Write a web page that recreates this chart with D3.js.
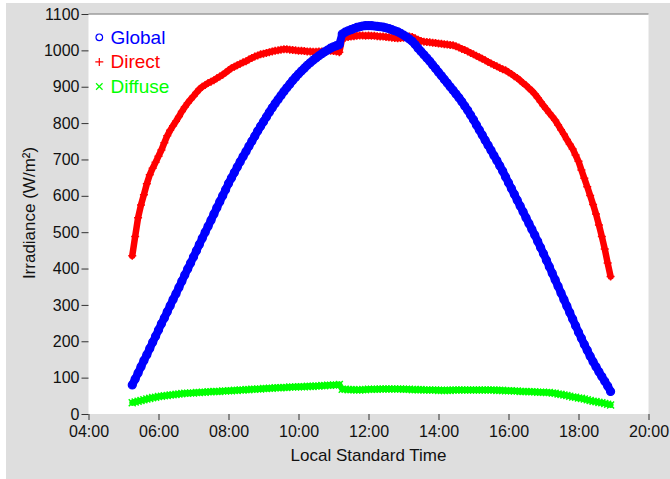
<!DOCTYPE html>
<html>
<head>
<meta charset="utf-8">
<script src="https://cdn.jsdelivr.net/npm/d3@7"></script>
<style>
  html, body { margin: 0; padding: 0; background: #fff; }
  svg { display: block; }
</style>
</head>
<body>
<svg id="chart" width="670" height="479"></svg>
<script>
// one reading every 5 minutes, 05:15 .. 18:55 (one row per hour)
const firstReading = "05:15";
const stepMinutes = 5;

const globalIrr = [
  80, 96, 113, 130, 147, 163, 180, 197, 214,
  231, 248, 264, 281, 298, 315, 331, 348, 365, 382, 399, 415,
  432, 449, 466, 483, 500, 516, 533, 550, 567, 584, 600, 617,
  634, 649, 664, 679, 694, 708, 722, 736, 750, 764, 778, 791,
  804, 817, 830, 842, 854, 865, 876, 887, 897, 907, 917, 926,
  935, 943, 951, 959, 966, 973, 979, 985, 991, 996, 1001, 1006,
  1010, 1013, 1016, 1045, 1050, 1054, 1057, 1060, 1063, 1065, 1067, 1068,
  1068, 1068, 1067, 1066, 1065, 1064, 1062, 1060, 1057, 1054, 1051, 1047,
  1042, 1037, 1031, 1025, 1016, 1006, 997, 988, 979, 970, 960, 950,
  940, 930, 920, 910, 900, 890, 880, 870, 859, 847, 835, 822,
  809, 795, 781, 767, 753, 739, 725, 711, 697, 683, 668, 652,
  636, 620, 604, 588, 572, 556, 540, 524, 508, 492, 475, 458,
  441, 423, 405, 387, 369, 351, 333, 315, 297, 279, 261, 243,
  225, 208, 191, 175, 159, 144, 130, 116, 103, 90, 77, 62
];

const directIrr = [
  435, 488, 540, 575, 603, 633, 658, 676, 692,
  709, 726, 746, 765, 780, 793, 805, 818, 832, 844, 855, 865,
  874, 884, 893, 900, 905, 910, 914, 918, 923, 928, 933, 939,
  945, 951, 955, 959, 963, 967, 970, 975, 979, 983, 986, 989,
  991, 993, 995, 997, 999, 1000, 1002, 1003, 1003, 1002, 1001, 1000,
  999, 999, 998, 997, 997, 996, 996, 997, 997, 998, 999, 999,
  998, 997, 995, 1033, 1035, 1037, 1038, 1039, 1040, 1041, 1041, 1040,
  1041, 1040, 1040, 1039, 1038, 1038, 1037, 1036, 1035, 1034, 1033, 1034,
  1035, 1037, 1038, 1037, 1033, 1029, 1026, 1024, 1023, 1022, 1021, 1020,
  1019, 1018, 1017, 1016, 1015, 1014, 1011, 1008, 1004, 1001, 997, 993,
  989, 985, 981, 977, 973, 968, 964, 960, 956, 952, 948, 945,
  940, 935, 929, 924, 917, 910, 904, 896, 889, 880, 870, 859,
  848, 838, 828, 818, 808, 795, 782, 769, 755, 742, 729, 712,
  695, 671, 648, 625, 601, 576, 550, 520, 488, 454, 415, 378
];

const diffuseIrr = [
  31, 33, 35, 37, 39, 41, 43, 45, 46,
  48, 49, 50, 51, 52, 53, 54, 55, 56, 57, 57, 58,
  58, 59, 59, 60, 60, 61, 61, 62, 62, 62, 63, 63,
  64, 64, 65, 65, 66, 66, 67, 67, 68, 68, 69, 69,
  70, 70, 71, 71, 72, 72, 72, 73, 73, 74, 74, 74,
  75, 75, 75, 76, 76, 76, 77, 77, 78, 78, 79, 79,
  80, 80, 81, 68, 68, 67, 67, 67, 66, 66, 67, 67,
  68, 68, 68, 68, 69, 69, 69, 69, 69, 69, 69, 69,
  68, 68, 68, 67, 67, 67, 67, 66, 66, 66, 66, 66,
  65, 65, 65, 65, 65, 66, 66, 66, 66, 66, 66, 66,
  66, 66, 66, 66, 66, 66, 66, 66, 65, 65, 65, 64,
  64, 64, 63, 63, 62, 62, 62, 61, 61, 61, 60, 60,
  60, 59, 59, 58, 57, 55, 54, 52, 51, 49, 47, 46,
  44, 43, 41, 39, 37, 35, 34, 32, 31, 29, 27, 25
];

const xTicks = ["04:00", "06:00", "08:00", "10:00", "12:00", "14:00", "16:00", "18:00", "20:00"];
const yTicks = [0, 100, 200, 300, 400, 500, 600, 700, 800, 900, 1000, 1100];
const seriesNames = ["Global", "Direct", "Diffuse"];

const fontFamily = "'Liberation Sans', Arial, sans-serif";
const colors = { Global: "#0000ff", Direct: "#ff0000", Diffuse: "#00ff00" };

function toMinutes(s) {
  const [h, m] = s.split(":").map(Number);
  return h * 60 + m;
}
function fmtTime(min) {
  const h = Math.floor(min / 60), m = min % 60;
  return String(h).padStart(2, "0") + ":" + String(m).padStart(2, "0");
}

const start = toMinutes(firstReading);
const toPoints = (vals) => vals.map((v, i) => ({ t: start + i * stepMinutes, v: v }));
const series = {
  Global: toPoints(globalIrr),
  Direct: toPoints(directIrr),
  Diffuse: toPoints(diffuseIrr)
};

const plotLeft = 88.5, plotRight = 648.5, plotTop = 14, plotBottom = 414;

const svg = d3.select("#chart");

// grey panel + white plotting area
svg.append("rect").attr("x", 6).attr("y", 3).attr("width", 664).attr("height", 476).attr("fill", "#dedede");
svg.append("rect")
  .attr("x", plotLeft).attr("y", plotTop)
  .attr("width", plotRight - plotLeft).attr("height", plotBottom - plotTop)
  .attr("fill", "#fff");
svg.append("line")
  .attr("x1", plotLeft).attr("x2", plotRight)
  .attr("y1", plotTop).attr("y2", plotTop)
  .attr("stroke", "#9c9c9c").attr("stroke-width", 1.5);

const x = d3.scaleLinear()
  .domain([toMinutes(xTicks[0]), toMinutes(xTicks[xTicks.length - 1])])
  .range([plotLeft, plotRight]);
const y = d3.scaleLinear().domain([0, 1100]).range([plotBottom, plotTop]);

// axes (no domain line, only ticks)
const xAxis = d3.axisBottom(x)
  .tickValues(xTicks.map(toMinutes))
  .tickFormat(fmtTime)
  .tickSize(6)
  .tickPadding(6);
const yAxis = d3.axisLeft(y)
  .tickValues(yTicks)
  .tickFormat(d3.format("d"))
  .tickSize(7)
  .tickPadding(2);

function styleAxis(g) {
  g.attr("font-family", fontFamily).attr("font-size", 16);
  g.select(".domain").remove();
  g.selectAll(".tick line").attr("stroke", "#333").attr("stroke-width", 1);
  g.selectAll(".tick text").attr("fill", "#111");
}

svg.append("g").attr("transform", `translate(0,${plotBottom})`).call(xAxis).call(styleAxis);
svg.append("g").attr("transform", `translate(${plotLeft},0)`).call(yAxis).call(styleAxis);

svg.append("text")
  .attr("x", (plotLeft + plotRight) / 2).attr("y", 460.5)
  .attr("text-anchor", "middle")
  .attr("font-family", fontFamily).attr("font-size", 17).attr("fill", "#111")
  .text("Local Standard Time");

svg.append("text")
  .attr("transform", `translate(35,${(plotTop + plotBottom) / 2 - 1}) rotate(-90)`)
  .attr("text-anchor", "middle")
  .attr("font-family", fontFamily).attr("font-size", 17).attr("fill", "#111")
  .text("Irradiance (W/m²)");

// marker shapes
const plusShape = {
  draw(ctx, size) {
    const r = Math.sqrt(size) / 2;
    ctx.moveTo(-r, 0); ctx.lineTo(r, 0);
    ctx.moveTo(0, -r); ctx.lineTo(0, r);
  }
};
const timesShape = {
  draw(ctx, size) {
    const r = Math.sqrt(size) / 2;
    ctx.moveTo(-r, -r); ctx.lineTo(r, r);
    ctx.moveTo(-r, r); ctx.lineTo(r, -r);
  }
};

const line = d3.line().x(d => x(d.t)).y(d => y(d.v));
const marks = svg.append("g");

// the readings are so dense that each series merges into a band:
// a wide stroke through the points plus the markers on top
function band(name, width) {
  marks.append("path")
    .datum(series[name])
    .attr("d", line)
    .attr("fill", "none")
    .attr("stroke", colors[name])
    .attr("stroke-width", width)
    .attr("stroke-linecap", "round")
    .attr("stroke-linejoin", "round");
}

// diffuse ×
band("Diffuse", 6);
marks.append("g").selectAll("path")
  .data(series.Diffuse).join("path")
  .attr("transform", d => `translate(${x(d.t)},${y(d.v)})`)
  .attr("d", d3.symbol().type(timesShape).size(49))
  .attr("fill", "none").attr("stroke", colors.Diffuse).attr("stroke-width", 1.5);

// direct +
band("Direct", 6.5);
marks.append("g").selectAll("path")
  .data(series.Direct).join("path")
  .attr("transform", d => `translate(${x(d.t)},${y(d.v)})`)
  .attr("d", d3.symbol().type(plusShape).size(64))
  .attr("fill", "none").attr("stroke", colors.Direct).attr("stroke-width", 1.5);

// global ○
band("Global", 8);
marks.append("g").selectAll("circle")
  .data(series.Global).join("circle")
  .attr("cx", d => x(d.t)).attr("cy", d => y(d.v))
  .attr("r", 4)
  .attr("fill", "none").attr("stroke", colors.Global).attr("stroke-width", 1.2);

// legend
const legendSymbols = {
  Global: d3.symbol().type(d3.symbolCircle).size(Math.PI * 3.3 * 3.3),
  Direct: d3.symbol().type(plusShape).size(64),
  Diffuse: d3.symbol().type(timesShape).size(42)
};
const legend = svg.append("g").selectAll("g")
  .data(seriesNames).join("g")
  .attr("transform", (d, i) => `translate(99.3,${37.3 + i * 24.6})`);
legend.append("path")
  .attr("d", d => legendSymbols[d]())
  .attr("fill", "none").attr("stroke", d => colors[d]).attr("stroke-width", 1.2);
legend.append("text")
  .attr("x", 11.2).attr("y", 6.3)
  .attr("font-family", fontFamily).attr("font-size", 19)
  .attr("fill", d => colors[d])
  .text(d => d);
</script>
</body>
</html>
